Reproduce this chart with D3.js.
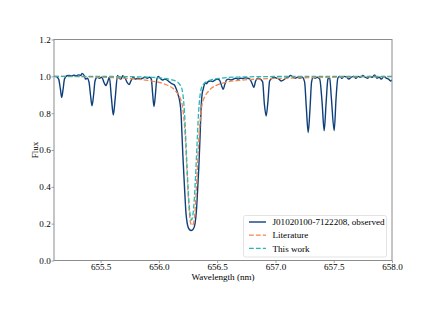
<!DOCTYPE html>
<html>
<head>
<meta charset="utf-8">
<script src="https://cdn.jsdelivr.net/npm/d3@7"></script>
<style>
  body { margin: 0; background: #fff; }
  svg text { font-family: "Liberation Serif", "DejaVu Serif", serif; }
</style>
</head>
<body>
<div id="chart"></div>
<script>
// observed spectrum
const obsWave = [655.10,655.12,655.14,655.155,655.166,655.178,655.19,655.21,655.23,655.25,655.27,655.29,655.31,655.33,655.34,655.36,655.37,655.385,655.40,655.413,655.426,655.44,655.452,655.47,655.49,655.51,655.53,655.545,655.56,655.575,655.593,655.609,655.625,655.645,655.66,655.675,655.69,655.71,655.73,655.745,655.76,655.78,655.80,655.82,655.84,655.86,655.88,655.90,655.92,655.935,655.947,655.958,655.97,655.982,655.995,656.01,656.03,656.05,656.07,656.09,656.11,656.13,656.15,656.165,656.18,656.19,656.197,656.205,656.213,656.222,656.232,656.245,656.26,656.278,656.295,656.31,656.322,656.332,656.342,656.35,656.357,656.364,656.372,656.38,656.39,656.40,656.41,656.42,656.44,656.46,656.48,656.50,656.52,656.54,656.552,656.565,656.58,656.60,656.62,656.64,656.66,656.68,656.70,656.72,656.74,656.76,656.78,656.80,656.815,656.83,656.85,656.87,656.89,656.905,656.92,656.935,656.95,656.97,656.99,657.01,657.03,657.05,657.07,657.09,657.11,657.13,657.15,657.17,657.19,657.21,657.23,657.25,657.265,657.281,657.297,657.31,657.325,657.34,657.36,657.38,657.40,657.418,657.435,657.45,657.465,657.48,657.504,657.52,657.535,657.55,657.57,657.59,657.61,657.63,657.65,657.67,657.69,657.71,657.73,657.75,657.77,657.79,657.81,657.83,657.85,657.87,657.89,657.91,657.93,657.95,657.97,657.99,658.00];
const obsFlux = [1.000,0.998,0.985,0.93,0.885,0.93,0.985,1.003,1.005,1.002,1.006,1.003,1.008,1.004,1.016,1.003,0.985,0.99,0.97,0.90,0.84,0.90,0.975,0.995,0.99,0.995,0.965,0.95,0.97,0.995,0.88,0.79,0.88,1.005,0.99,0.985,1.003,0.99,0.965,0.955,0.975,0.995,0.985,0.99,0.985,0.99,0.995,0.99,0.995,0.985,0.90,0.836,0.90,0.985,1.0,0.99,0.98,0.985,0.98,0.97,0.96,0.955,0.93,0.90,0.86,0.80,0.70,0.58,0.48,0.37,0.26,0.195,0.17,0.163,0.17,0.20,0.27,0.38,0.50,0.62,0.74,0.85,0.91,0.93,0.955,0.965,0.96,0.97,0.975,0.972,0.98,0.985,0.98,0.945,0.93,0.955,0.98,0.985,0.98,0.985,0.99,0.985,0.99,0.988,0.992,0.99,0.985,0.96,0.94,0.975,0.99,0.985,0.97,0.85,0.785,0.86,0.975,0.99,0.995,0.99,0.985,0.975,0.98,0.99,0.995,1.005,0.995,0.99,0.995,0.99,0.995,0.97,0.83,0.695,0.83,0.97,0.995,0.99,0.995,0.985,0.86,0.705,0.86,0.985,0.995,0.88,0.705,0.88,0.99,1.0,0.99,1.0,0.995,0.985,0.995,1.0,0.99,1.0,0.995,1.005,0.995,0.99,1.0,0.995,1.008,0.99,0.995,0.985,1.0,0.99,0.985,0.975,0.98];

// literature model
const litWave = [655.10,655.30,655.50,655.70,655.80,655.90,655.98,656.03,656.08,656.12,656.15,656.18,656.20,656.21,656.22,656.23,656.24,656.25,656.26,656.27,656.285,656.30,656.31,656.32,656.33,656.34,656.35,656.36,656.37,656.39,656.42,656.45,656.49,656.54,656.59,656.69,656.84,657.10,657.50,658.00];
const litFlux = [1.0,0.998,0.995,0.99,0.985,0.978,0.97,0.962,0.95,0.935,0.915,0.885,0.845,0.80,0.73,0.63,0.50,0.37,0.27,0.21,0.19,0.21,0.27,0.37,0.50,0.63,0.73,0.80,0.845,0.885,0.915,0.935,0.95,0.962,0.97,0.978,0.985,0.99,0.995,0.998];

// this work model
const thisWave = [655.10,655.60,655.90,656.03,656.10,656.15,656.18,656.20,656.21,656.22,656.23,656.24,656.25,656.26,656.27,656.28,656.29,656.30,656.31,656.32,656.33,656.34,656.35,656.36,656.38,656.41,656.46,656.53,656.68,657.00,658.00];
const thisFlux = [1.0,0.999,0.996,0.99,0.983,0.972,0.955,0.925,0.88,0.80,0.67,0.53,0.40,0.30,0.24,0.22,0.24,0.30,0.40,0.53,0.67,0.80,0.88,0.925,0.955,0.972,0.983,0.99,0.996,0.999,1.0];

const xTicks = [655.5, 656.0, 656.5, 657.0, 657.5, 658.0];
const yTicks = [0.0, 0.2, 0.4, 0.6, 0.8, 1.0, 1.2];
const legendLabels = ["J01020100-7122208, observed", "Literature", "This work"];

const width = 436, height = 327;
const margin = { left: 54, right: 44, top: 39.5, bottom: 66.5 };
const serif = "'Liberation Serif', 'DejaVu Serif', serif";
const fontSize = "9.1px";

const svg = d3.select("#chart").append("svg")
  .attr("width", width)
  .attr("height", height);

const x = d3.scaleLinear().domain([655.1, 658.0]).range([margin.left, width - margin.right]);
const y = d3.scaleLinear().domain([0, 1.2]).range([height - margin.bottom, margin.top]);

const colors = ["#0f3f7a", "#f5854f", "#2bb8b0"];

svg.append("clipPath").attr("id", "clip")
  .append("rect")
  .attr("x", margin.left).attr("y", margin.top)
  .attr("width", width - margin.left - margin.right)
  .attr("height", height - margin.top - margin.bottom);

const line = d3.line()
  .x(d => x(d[0]))
  .y(d => y(d[1]))
  .curve(d3.curveMonotoneX);

const plot = svg.append("g").attr("clip-path", "url(#clip)");

plot.append("path")
  .datum(d3.zip(obsWave, obsFlux))
  .attr("fill", "none")
  .attr("stroke", colors[0])
  .attr("stroke-width", 1.4)
  .attr("d", line);

plot.append("path")
  .datum(d3.zip(litWave, litFlux))
  .attr("fill", "none")
  .attr("stroke", colors[1])
  .attr("stroke-width", 1.3)
  .attr("stroke-dasharray", "4.8,2.1")
  .attr("d", line);

plot.append("path")
  .datum(d3.zip(thisWave, thisFlux))
  .attr("fill", "none")
  .attr("stroke", colors[2])
  .attr("stroke-width", 1.3)
  .attr("stroke-dasharray", "4.8,2.1")
  .attr("d", line);

// axes
const xAxis = svg.append("g")
  .attr("transform", "translate(0," + (height - margin.bottom) + ")")
  .call(d3.axisBottom(x).tickValues(xTicks).tickFormat(d3.format(".1f")).tickSizeOuter(0).tickSize(2.5).tickPadding(0.6));

const yAxis = svg.append("g")
  .attr("transform", "translate(" + margin.left + ",0)")
  .call(d3.axisLeft(y).tickValues(yTicks).tickFormat(d3.format(".1f")).tickSizeOuter(0).tickSize(2.5).tickPadding(0.8));

[xAxis, yAxis].forEach(a => {
  a.select(".domain").remove();
  a.selectAll("line").attr("stroke", "#666").attr("stroke-width", 0.6);
  a.selectAll("text").attr("fill", "#000")
    .style("font-family", serif).style("font-size", fontSize);
});

// frame
svg.append("rect")
  .attr("x", margin.left).attr("y", margin.top)
  .attr("width", width - margin.left - margin.right)
  .attr("height", height - margin.top - margin.bottom)
  .attr("fill", "none")
  .attr("stroke", "#8c8c8c")
  .attr("stroke-width", 1);

svg.append("text")
  .attr("x", (margin.left + width - margin.right) / 2)
  .attr("y", 280)
  .attr("text-anchor", "middle")
  .style("font-family", serif).style("font-size", fontSize)
  .text("Wavelength (nm)");

svg.append("text")
  .attr("transform", "translate(38," + ((margin.top + height - margin.bottom) / 2) + ") rotate(-90)")
  .attr("text-anchor", "middle")
  .style("font-family", serif).style("font-size", fontSize)
  .text("Flux");

// legend
const lg = svg.append("g");
lg.append("rect")
  .attr("x", 243.5).attr("y", 215.5)
  .attr("width", 143).attr("height", 41.5)
  .attr("rx", 2)
  .attr("fill", "#fff").attr("fill-opacity", 0.8)
  .attr("stroke", "#dcdcdc").attr("stroke-width", 0.8);

legendLabels.forEach((label, i) => {
  const ly = 222 + i * 13.2;
  lg.append("line")
    .attr("x1", 249).attr("x2", 266)
    .attr("y1", ly).attr("y2", ly)
    .attr("stroke", colors[i])
    .attr("stroke-width", i === 0 ? 1.4 : 1.3)
    .attr("stroke-dasharray", i === 0 ? null : "4.8,2.1");
  lg.append("text")
    .attr("x", 272.5).attr("y", ly + 3.2)
    .style("font-family", serif).style("font-size", fontSize)
    .text(label);
});
</script>
</body>
</html>
